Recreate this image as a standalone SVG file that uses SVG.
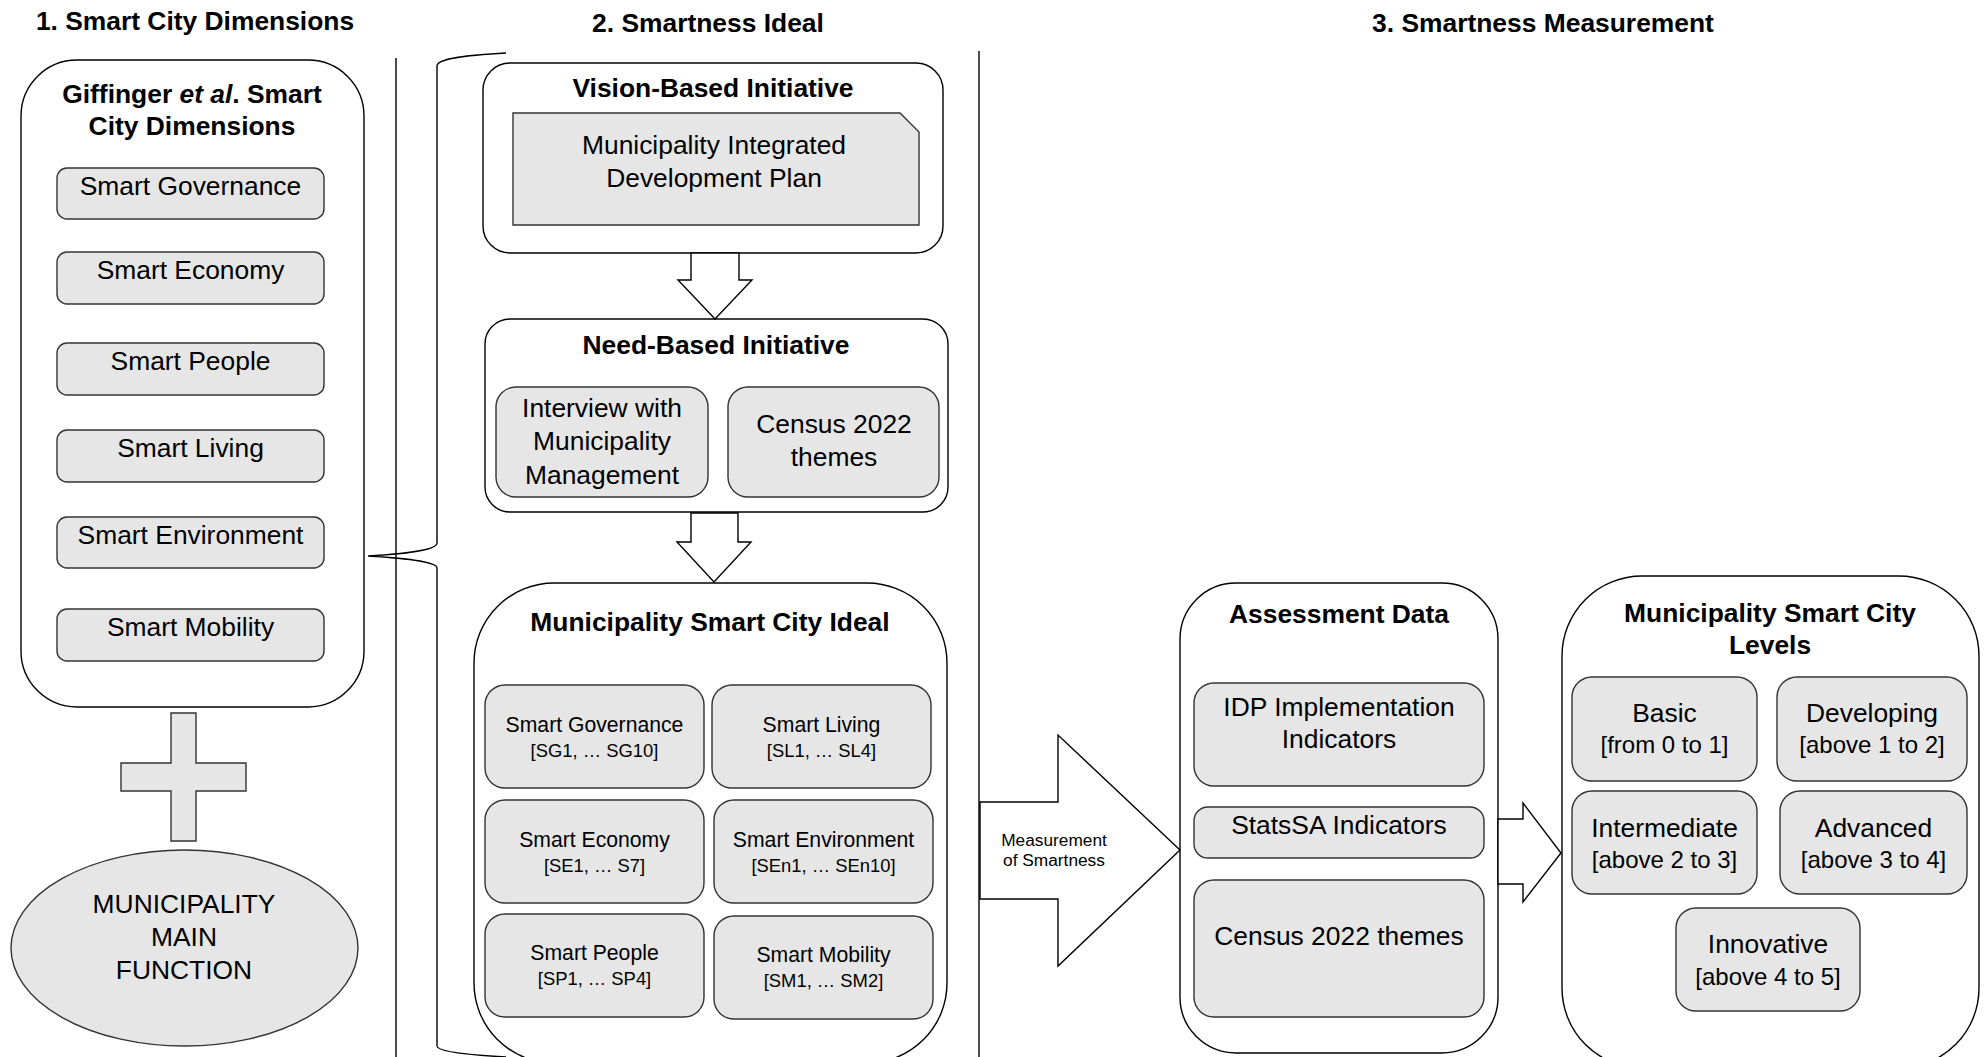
<svg xmlns="http://www.w3.org/2000/svg" width="1988" height="1057" viewBox="0 0 1988 1057">
<style>
text{font-family:"Liberation Sans",Arial,sans-serif;fill:#000;text-anchor:middle}
.t{font-size:26.4px;font-weight:bold}
.n{font-size:26.4px}
.s1{font-size:21.2px}
.s2{font-size:18.4px}
.l2{font-size:24px}
.outer{fill:#fff;stroke:#000;stroke-width:1.4}
.box{fill:#e6e6e6;stroke:#333;stroke-width:1.4}
.line{fill:none;stroke:#000;stroke-width:1.4}
.arrow{fill:#fff;stroke:#000;stroke-width:1.4;stroke-linejoin:miter}
</style>

<g id="titles">
<text class="t" x="195" y="30">1. Smart City Dimensions</text>
<text class="t" x="708" y="32">2. Smartness Ideal</text>
<text class="t" x="1543" y="32">3. Smartness Measurement</text>
</g>

<g id="dividers">
<line class="line" x1="396" y1="58" x2="396" y2="1057"/>
<line class="line" x1="979" y1="51" x2="979" y2="1057"/>
</g>

<g id="giffinger">
<rect class="outer" x="21" y="60" width="343" height="647" rx="56"/>
<text class="t" x="192" y="103">Giffinger <tspan font-style="italic">et al</tspan>. Smart</text>
<text class="t" x="192" y="135">City Dimensions</text>
</g>
<g id="gov"><rect class="box" x="57" y="168" width="267" height="51" rx="10"/><text class="n" x="190.5" y="195">Smart Governance</text></g>
<g id="eco"><rect class="box" x="57" y="252" width="267" height="52" rx="10"/><text class="n" x="190.5" y="279">Smart Economy</text></g>
<g id="peo"><rect class="box" x="57" y="343" width="267" height="52" rx="10"/><text class="n" x="190.5" y="370">Smart People</text></g>
<g id="liv"><rect class="box" x="57" y="430" width="267" height="52" rx="10"/><text class="n" x="190.5" y="457">Smart Living</text></g>
<g id="env"><rect class="box" x="57" y="517" width="267" height="51" rx="10"/><text class="n" x="190.5" y="544">Smart Environment</text></g>
<g id="mob"><rect class="box" x="57" y="609" width="267" height="52" rx="10"/><text class="n" x="190.5" y="636">Smart Mobility</text></g>

<g id="plus">
<path class="box" stroke="#222" d="M171 713 H196 V763 H246 V791 H196 V841 H171 V791 H121 V763 H171 Z"/>
</g>

<g id="mainfunction">
<ellipse class="box" stroke="#222" cx="184.5" cy="948" rx="173.5" ry="98"/>
<text class="n" x="184" y="913">MUNICIPALITY</text>
<text class="n" x="184" y="946">MAIN</text>
<text class="n" x="184" y="979">FUNCTION</text>
</g>

<g id="vision">
<rect class="outer" x="483" y="63" width="460" height="190" rx="27"/>
<text class="t" x="713" y="97">Vision-Based Initiative</text>
</g>
<g id="idp">
<path class="box" d="M513 113 H900 L919 132 V225 H513 Z"/>
<text class="n" x="714" y="154">Municipality Integrated</text>
<text class="n" x="714" y="187">Development Plan</text>
</g>

<g id="need">
<rect class="outer" x="485" y="319" width="463" height="193" rx="25"/>
<text class="t" x="716" y="354">Need-Based Initiative</text>
</g>
<g id="interview">
<rect class="box" x="496" y="387" width="212" height="110" rx="20"/>
<text class="n" x="602" y="417">Interview with</text>
<text class="n" x="602" y="450">Municipality</text>
<text class="n" x="602" y="484">Management</text>
</g>
<g id="census1">
<rect class="box" x="728" y="387" width="211" height="110" rx="20"/>
<text class="n" x="834" y="433">Census 2022</text>
<text class="n" x="834" y="466">themes</text>
</g>

<g id="ideal">
<rect class="outer" x="474" y="583" width="473" height="480" rx="80"/>
<text class="t" x="710" y="631">Municipality Smart City Ideal</text>
</g>
<g id="i-gov"><rect class="box" x="485" y="685" width="219" height="103" rx="20"/><text class="s1" x="594.5" y="732">Smart Governance</text><text class="s2" x="594.5" y="757">[SG1, … SG10]</text></g>
<g id="i-liv"><rect class="box" x="712" y="685" width="219" height="103" rx="20"/><text class="s1" x="821.5" y="732">Smart Living</text><text class="s2" x="821.5" y="757">[SL1, … SL4]</text></g>
<g id="i-eco"><rect class="box" x="485" y="800" width="219" height="103" rx="20"/><text class="s1" x="594.5" y="847">Smart Economy</text><text class="s2" x="594.5" y="872">[SE1, … S7]</text></g>
<g id="i-env"><rect class="box" x="714" y="800" width="219" height="103" rx="20"/><text class="s1" x="823.5" y="847">Smart Environment</text><text class="s2" x="823.5" y="872">[SEn1, … SEn10]</text></g>
<g id="i-peo"><rect class="box" x="485" y="914" width="219" height="103" rx="20"/><text class="s1" x="594.5" y="960">Smart People</text><text class="s2" x="594.5" y="985">[SP1, … SP4]</text></g>
<g id="i-mob"><rect class="box" x="714" y="916" width="219" height="103" rx="20"/><text class="s1" x="823.5" y="962">Smart Mobility</text><text class="s2" x="823.5" y="987">[SM1, … SM2]</text></g>

<g id="assessment">
<rect class="outer" x="1180" y="583" width="318" height="470" rx="56"/>
<text class="t" x="1339" y="623">Assessment Data</text>
</g>
<g id="idpind"><rect class="box" x="1194" y="683" width="290" height="103" rx="20"/><text class="n" x="1339" y="716">IDP Implementation</text><text class="n" x="1339" y="748">Indicators</text></g>
<g id="statssa"><rect class="box" x="1194" y="807" width="290" height="51" rx="14"/><text class="n" x="1339" y="834">StatsSA Indicators</text></g>
<g id="census2"><rect class="box" x="1194" y="880" width="290" height="137" rx="20"/><text class="n" x="1339" y="945">Census 2022 themes</text></g>

<g id="levels">
<rect class="outer" x="1562" y="576" width="417" height="492" rx="80"/>
<text class="t" x="1770" y="622">Municipality Smart City</text>
<text class="t" x="1770" y="654">Levels</text>
</g>
<g id="basic"><rect class="box" x="1572" y="677" width="185" height="104" rx="20"/><text class="n" x="1664.5" y="722">Basic</text><text class="l2" x="1664.5" y="753">[from 0 to 1]</text></g>
<g id="developing"><rect class="box" x="1777" y="677" width="190" height="104" rx="20"/><text class="n" x="1872" y="722">Developing</text><text class="l2" x="1872" y="753">[above 1 to 2]</text></g>
<g id="intermediate"><rect class="box" x="1572" y="791" width="185" height="103" rx="20"/><text class="n" x="1664.5" y="837">Intermediate</text><text class="l2" x="1664.5" y="868">[above 2 to 3]</text></g>
<g id="advanced"><rect class="box" x="1780" y="791" width="187" height="103" rx="20"/><text class="n" x="1873.5" y="837">Advanced</text><text class="l2" x="1873.5" y="868">[above 3 to 4]</text></g>
<g id="innovative"><rect class="box" x="1676" y="908" width="184" height="103" rx="20"/><text class="n" x="1768" y="953">Innovative</text><text class="l2" x="1768" y="985">[above 4 to 5]</text></g>

<g id="connectors">
<path class="line" d="M506 53 C470 55 437 58 437 66 L437 543 C437 551 400 554 368 556 C400 558 437 561 437 568 L437 1046 C437 1052 470 1055 506 1057"/>
<path class="arrow" d="M691 253 H739 V280 H752 L715 319 L678 280 H691 Z"/>
<path class="arrow" d="M691 513 H738 V542 H751 L714 582 L677 542 H691 Z"/>
<path class="arrow" d="M980 802 H1058 V735 L1180 850 L1058 966 V899 H980 Z"/>
<text x="1054" y="846" style="font-size:17.3px">Measurement</text>
<text x="1054" y="866" style="font-size:17.3px">of Smartness</text>
<path class="arrow" d="M1498 819 H1523 V803 L1561 853 L1523 902 V884 H1498 Z"/>
</g>
</svg>
